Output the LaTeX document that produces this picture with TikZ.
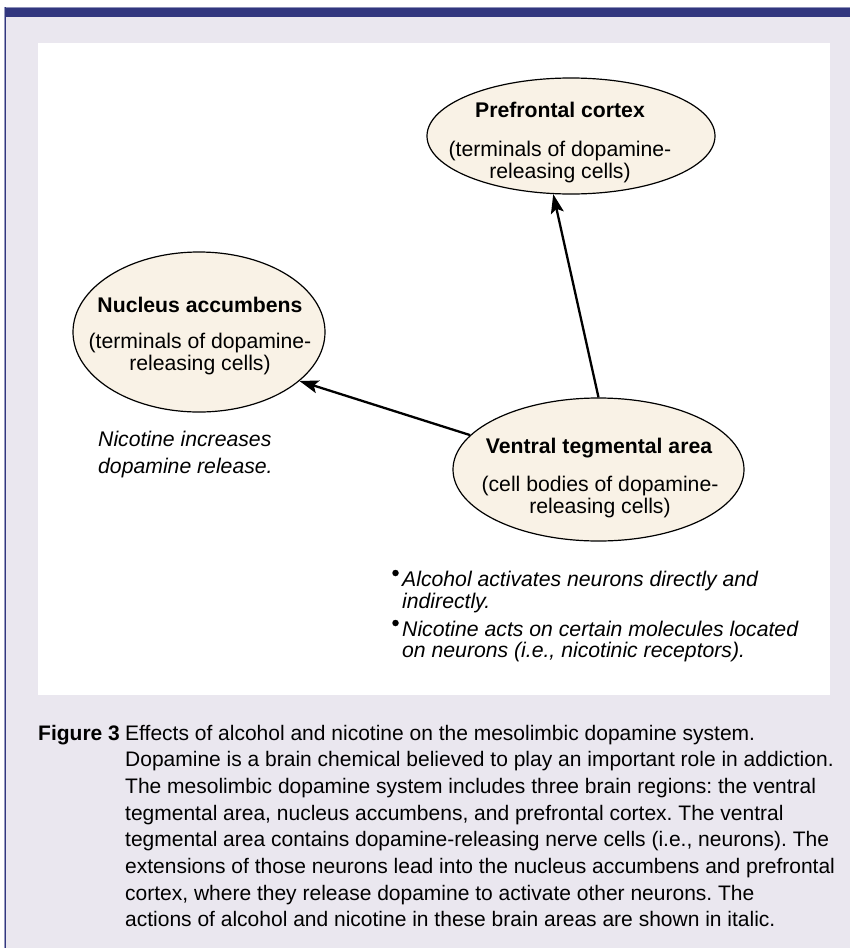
\documentclass[tikz,border=0pt]{standalone}
\usepackage{fontspec}
\setmainfont{Liberation Sans}
\usetikzlibrary{shapes.geometric,arrows.meta}
\definecolor{barblue}{HTML}{32377F}
\definecolor{lav}{HTML}{EAE7EF}
\definecolor{cream}{HTML}{F9F2E6}
\frenchspacing
\begin{document}
\begin{tikzpicture}[x=1pt,y=-1pt,
  region/.style={ellipse, draw=black, line width=1.2pt, fill=cream, inner sep=0pt},
  conn/.style={line width=2.3pt, -{Stealth[length=19pt,width=13pt,inset=4pt]}},
  titletext/.style={anchor=base, inner sep=0pt, font=\fontsize{21.2}{22}\selectfont\bfseries},
  desctext/.style={anchor=base, inner sep=0pt, font=\fontsize{21.2}{22.5}\selectfont},
  notetext/.style={anchor=base west, inner sep=0pt, font=\fontsize{21.2}{22}\selectfont\itshape},
  captext/.style={anchor=base west, inner sep=0pt, font=\fontsize{21}{26.7}\selectfont},
  bulletdot/.style={circle, fill=black, inner sep=0pt, minimum size=6.5pt}
]
\useasboundingbox (0,0) rectangle (850,948);
\fill[white] (0,0) rectangle (850,948);
% frame
\fill[lav] (5,7) rectangle (850,948);
\fill[white] (38,43) rectangle (830,695);
\fill[barblue] (4,7) rectangle (850,17);
\fill[barblue!55] (4,7) rectangle (850,8.2);
\fill[barblue] (4,7) rectangle (6.2,948);
\fill[barblue!50] (3.6,7) rectangle (4.6,948);

% regions
\node[region, minimum width=288pt, minimum height=116pt] (pfc) at (571,136) {};
\node[region, minimum width=252pt, minimum height=160pt] (na) at (199,332) {};
\node[region, minimum width=291pt, minimum height=143pt] (vta) at (598.5,469.5) {};

\node[titletext] (pfct) at (560,117) {Prefrontal cortex};
\node[desctext] (pfcd) at (560,156) {\parbox[t]{260pt}{\centering (terminals of dopamine-\\releasing cells)}};
\node[titletext] (nat) at (200,312) {Nucleus accumbens};
\node[desctext] (nad) at (200,348) {\parbox[t]{240pt}{\centering (terminals of dopamine-\\releasing cells)}};
\node[titletext] (vtat) at (599,453) {Ventral tegmental area};
\node[desctext] (vtad) at (600,491) {\parbox[t]{270pt}{\centering (cell bodies of dopamine-\\releasing cells)}};

% connectors
\draw[conn] (vta.165.8) -- (na.-26.6);
\draw[conn] (vta.90) -- (pfc.-107.3);

% notes
\node[notetext, font=\fontsize{21.2}{27}\selectfont\itshape] (nanote) at (98,446) {\parbox[t]{250pt}{\raggedright Nicotine increases\\dopamine release.}};
\node[bulletdot] (b1) at (395.5,573) {};
\node[bulletdot] (b2) at (395.5,623) {};
\node[notetext] (alc) at (402,586) {\parbox[t]{420pt}{\raggedright Alcohol activates neurons directly and\\indirectly.}};
\node[notetext, font=\fontsize{21.2}{21.5}\selectfont\itshape] (nic) at (402,636) {\parbox[t]{420pt}{\raggedright Nicotine acts on certain molecules located\\on neurons (i.e., nicotinic receptors).}};

% caption
\node[captext, font=\fontsize{21}{26.7}\selectfont\bfseries] (figlab) at (38,740) {Figure 3};
\node[captext] (cap) at (125,740) {\parbox[t]{720pt}{\raggedright
Effects of alcohol and nicotine on the mesolimbic dopamine system.\\
Dopamine is a brain chemical believed to play an important role in addiction.\\
The mesolimbic dopamine system includes three brain regions: the ventral\\
tegmental area, nucleus accumbens, and prefrontal cortex. The ventral\\
tegmental area contains dopamine-releasing nerve cells (i.e., neurons). The\\
extensions of those neurons lead into the nucleus accumbens and prefrontal\\
cortex, where they release dopamine to activate other neurons. The\\
actions of alcohol and nicotine in these brain areas are shown in italic.}};
\end{tikzpicture}
\end{document}
